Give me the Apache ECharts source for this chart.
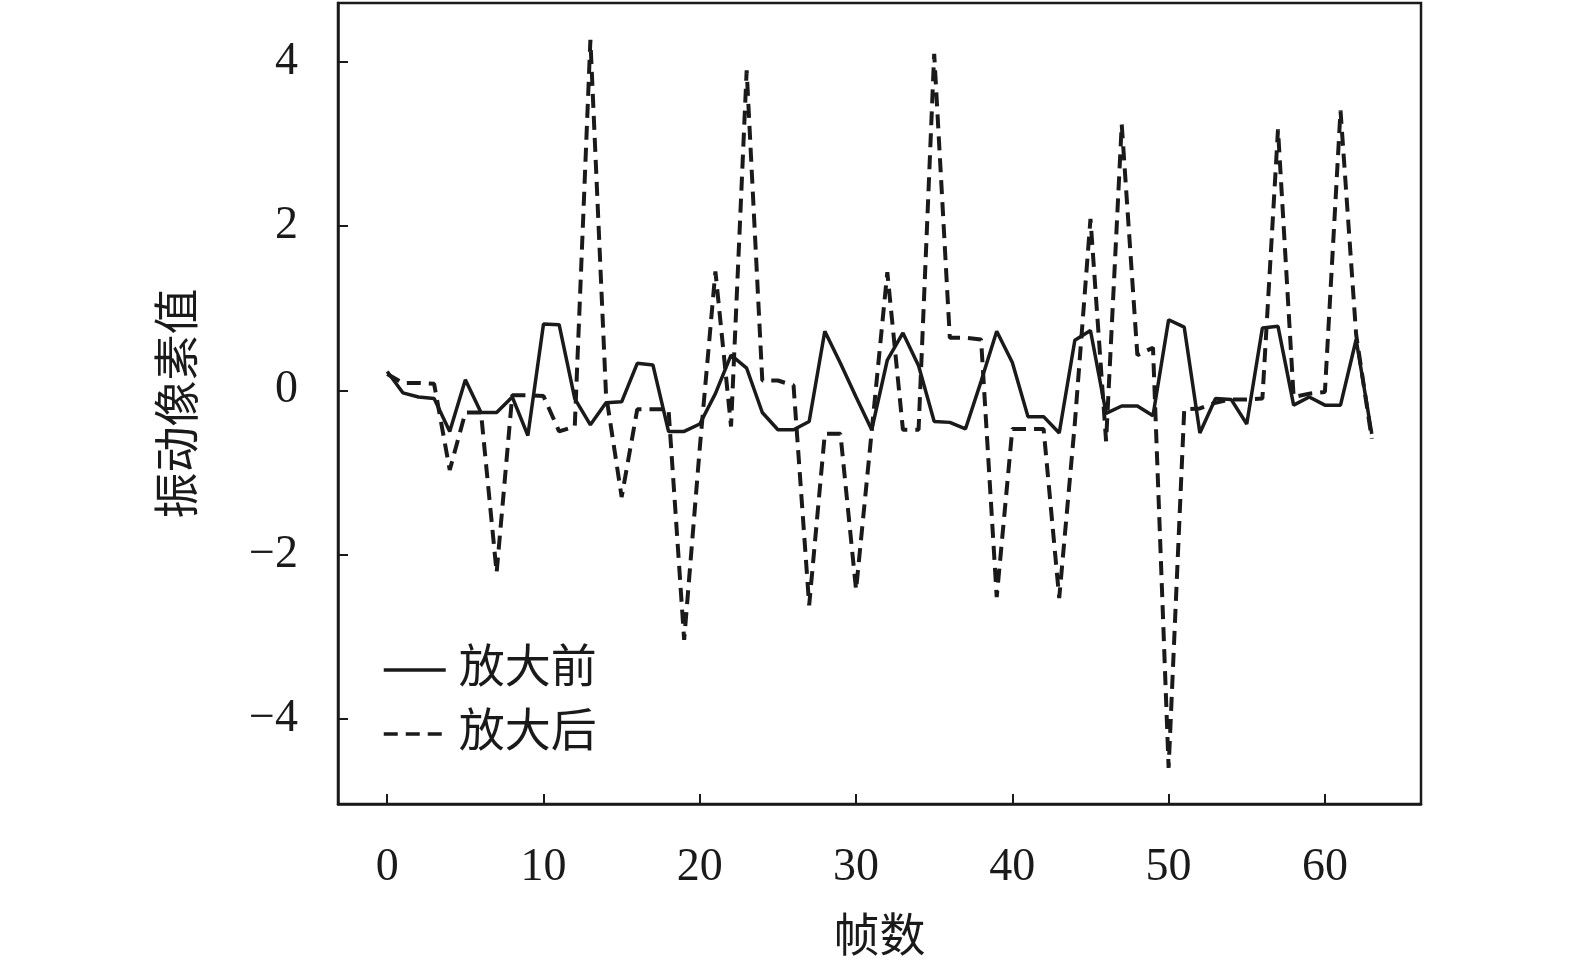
<!DOCTYPE html>
<html>
<head>
<meta charset="utf-8">
<script src="https://cdn.jsdelivr.net/npm/echarts@6/dist/echarts.min.js"></script>
<style>
  html, body { margin: 0; padding: 0; background: #fff; }
  #main { width: 1575px; height: 976px; }
</style>
</head>
<body>
<div id="main"></div>
<script>
// frame index 0..63
var frames = [];
for (var i = 0; i < 64; i++) frames.push(i);

// 放大前
var before = [
  0.23, -0.03, -0.08, -0.10, -0.50, 0.13, -0.27, -0.27, -0.08, -0.55,
  0.81, 0.80, -0.10, -0.42, -0.15, -0.14, 0.33, 0.31, -0.50, -0.50,
  -0.41, -0.04, 0.43, 0.27, -0.27, -0.48, -0.48, -0.38, 0.72, 0.33,
  -0.08, -0.48, 0.37, 0.70, 0.30, -0.38, -0.39, -0.47, 0.11, 0.72,
  0.34, -0.32, -0.32, -0.52, 0.61, 0.73, -0.28, -0.19, -0.19, -0.31,
  0.86, 0.77, -0.52, -0.10, -0.11, -0.41, 0.76, 0.78, -0.18, -0.08,
  -0.18, -0.18, 0.62, -0.53
];

// 放大后
var after = [
  0.20, 0.09, 0.09, 0.08, -0.97, -0.27, -0.27, -2.22, -0.06, -0.06,
  -0.07, -0.50, -0.44, 4.27, -0.05, -1.30, -0.23, -0.23, -0.23, -3.04,
  -0.70, 1.45, -0.44, 3.90, 0.12, 0.12, 0.06, -2.62, -0.53, -0.53,
  -2.43, -0.50, 1.44, -0.48, -0.48, 4.10, 0.64, 0.64, 0.62, -2.52,
  -0.47, -0.47, -0.47, -2.53, -0.40, 2.09, -0.62, 3.24, 0.43, 0.52,
  -4.60, -0.23, -0.22, -0.15, -0.11, -0.11, -0.10, 3.18, -0.08, -0.04,
  -0.02, 3.41, 0.68, -0.59
];

var xTicks = [0, 10, 20, 30, 40, 50, 60];
var yTicks = [-4, -2, 0, 2, 4];

function pairs(ys) {
  return frames.map(function (x, k) { return [x, ys[k]]; });
}

var ink = '#1a1a1a';
var font = "'Liberation Serif', 'Noto Sans CJK SC', serif";

var chart = echarts.init(document.getElementById('main'));

var option = {
  backgroundColor: '#fff',
  animation: false,
  textStyle: { fontFamily: font, color: ink },
  grid: {
    left: 338, right: 154, top: 3, bottom: 172,
    outerBoundsMode: 'none',
    containLabel: false,
    show: true, borderColor: ink, borderWidth: 2.5
  },
  legend: {
    orient: 'vertical',
    left: 377, top: 640,
    itemWidth: 62, itemHeight: 16, itemGap: 14,
    itemStyle: { opacity: 0 },
    lineStyle: { width: 3.5 },
    textStyle: { fontFamily: font, fontSize: 46, color: ink, lineHeight: 50, padding: [0, 0, 0, 8] },
    data: ['放大前', '放大后']
  },
  xAxis: {
    type: 'value',
    min: -3.15, max: 66.15,
    name: '帧数',
    nameLocation: 'middle',
    nameGap: 112,
    nameTextStyle: { fontFamily: font, fontSize: 46, color: ink },
    axisLine: { show: true, onZero: false, lineStyle: { color: ink, width: 2.5 } },
    axisTick: { show: true, inside: true, length: 10, lineStyle: { color: ink, width: 2 }, customValues: xTicks },
    axisLabel: { fontFamily: font, fontSize: 46, color: ink, margin: 41, customValues: xTicks },
    splitLine: { show: false }
  },
  yAxis: {
    type: 'value',
    min: -5.04, max: 4.72,
    name: '振动像素值',
    nameLocation: 'middle',
    nameGap: 134,
    nameTextStyle: { fontFamily: font, fontSize: 46, color: ink },
    axisLine: { show: true, onZero: false, lineStyle: { color: ink, width: 2.5 } },
    axisTick: { show: true, inside: true, length: 10, lineStyle: { color: ink, width: 2 }, customValues: yTicks },
    axisLabel: {
      fontFamily: font, fontSize: 46, color: ink, margin: 40, customValues: yTicks,
      formatter: function (v) { return v < 0 ? '\u2212' + Math.abs(v) : String(v); }
    },
    splitLine: { show: false }
  },
  series: [
    {
      name: '放大前',
      type: 'line',
      data: pairs(before),
      symbol: 'none',
      lineStyle: { color: ink, width: 3.5 },
      itemStyle: { color: ink }
    },
    {
      name: '放大后',
      type: 'line',
      data: pairs(after),
      symbol: 'none',
      lineStyle: { color: ink, width: 4, type: [14, 8] },
      itemStyle: { color: ink }
    }
  ]
};

chart.setOption(option);
</script>
</body>
</html>
